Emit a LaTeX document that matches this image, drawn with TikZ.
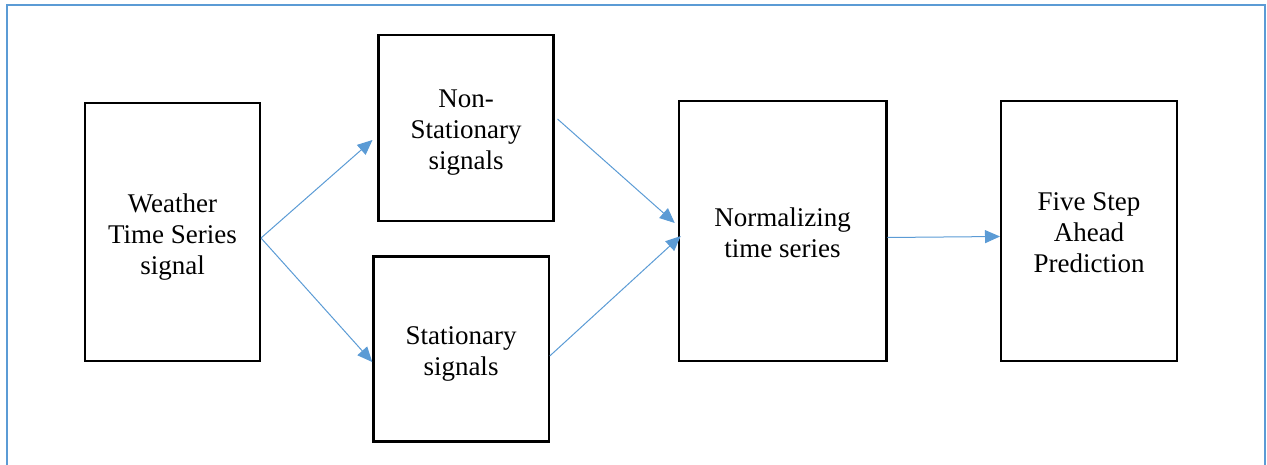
\documentclass[tikz,border=0pt]{standalone}
\usepackage{fontspec}
\setmainfont{Liberation Serif}
\usetikzlibrary{arrows.meta}
\definecolor{accblue}{HTML}{5B9BD5}
\tikzset{
  blockbox/.style={draw=black, line width=2.5pt, rectangle, inner sep=0pt, outer sep=0pt},
  blocktext/.style={align=center, inner sep=0pt, font=\fontsize{27}{31}\selectfont},
  flowarrow/.style={draw=accblue, line width=1pt, -{Triangle[length=15pt, width=13pt]}},
  frameline/.style={draw=accblue, line width=2.2pt}
}
\begin{document}
\begin{tikzpicture}[x=1pt,y=-1pt]
\useasboundingbox (0,0) rectangle (1267,465);
\draw[frameline] (7,480) -- (7,5) -- (1265,5) -- (1265,480);
\node[blockbox, minimum width=175pt, minimum height=258pt] (w) at (172.5,232) {};
\node[blockbox, minimum width=175pt, minimum height=186pt] (ns) at (466,128) {};
\node[blockbox, minimum width=175.5pt, minimum height=185pt] (st) at (461,349) {};
\node[blockbox, minimum width=207.5pt, minimum height=259.5pt] (nm) at (782.5,231) {};
\node[blockbox, minimum width=176pt, minimum height=259.5pt] (fs) at (1089,231) {};
\node[blocktext] (wt) at ([yshift=-5pt]w.center) {Weather\\Time Series\\signal};
\node[blocktext] (nst) at ([yshift=-5pt]ns.center) {Non-\\Stationary\\signals};
\node[blocktext] (stt) at ([yshift=-4.5pt]st.center) {Stationary\\signals};
\node[blocktext] (nmt) at ([yshift=-1.5pt]nm.center) {Normalizing\\time series};
\node[blocktext] (fst) at ([yshift=-1.5pt]fs.center) {Five Step\\Ahead\\Prediction};
\draw[flowarrow] ([xshift=1pt,yshift=-6pt]w.east) -- ([xshift=-6pt,yshift=-12pt]ns.west);
\draw[flowarrow] ([xshift=1pt,yshift=-6pt]w.east) -- ([xshift=-1pt,yshift=-13pt]st.west);
\draw[flowarrow] ([xshift=4pt,yshift=9pt]ns.east) -- ([xshift=-4pt,yshift=8pt]nm.west);
\draw[flowarrow] ([xshift=1pt,yshift=-7pt]st.east) -- ([xshift=2pt,yshift=-5pt]nm.west);
\draw[flowarrow] ([xshift=1pt,yshift=-6.5pt]nm.east) -- ([xshift=-1pt,yshift=-5.5pt]fs.west);
\end{tikzpicture}
\end{document}
